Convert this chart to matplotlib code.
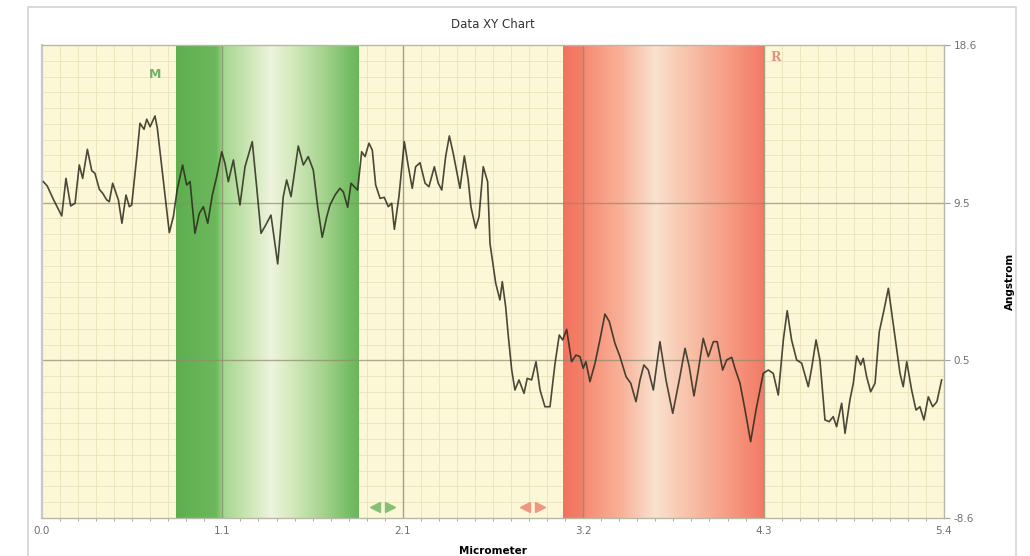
import numpy as np
import matplotlib
matplotlib.use("Agg")
import matplotlib.pyplot as plt
from matplotlib.colors import LinearSegmentedColormap
from matplotlib.patches import Rectangle

# Profile data
micrometer = [0.008, 0.031, 0.067, 0.091, 0.117, 0.142, 0.170, 0.196, 0.221, 0.241,
              0.269, 0.295, 0.314, 0.340, 0.360, 0.384, 0.399, 0.419, 0.453, 0.474,
              0.498, 0.518, 0.532, 0.562, 0.581, 0.605, 0.621, 0.641, 0.670, 0.684,
              0.724, 0.755, 0.779, 0.802, 0.834, 0.858, 0.878, 0.907, 0.933,
              0.957, 0.983, 1.010, 1.036, 1.066, 1.085, 1.105, 1.135, 1.174, 1.204,
              1.247, 1.273, 1.299, 1.327, 1.358, 1.398, 1.431, 1.451, 1.477, 1.520,
              1.550, 1.579, 1.609, 1.635, 1.662, 1.689, 1.708, 1.738, 1.767, 1.787,
              1.813, 1.833, 1.852, 1.872, 1.896,
              1.916, 1.939, 1.959, 1.979, 2.005, 2.030, 2.054, 2.074, 2.090, 2.117,
              2.149, 2.173, 2.196, 2.216, 2.242, 2.272, 2.295, 2.327, 2.350, 2.371,
              2.394, 2.416, 2.439, 2.479, 2.505, 2.528, 2.544, 2.572, 2.592, 2.617,
              2.643, 2.657, 2.677, 2.691, 2.716, 2.730, 2.750, 2.766, 2.786, 2.805,
              2.829,
              2.859, 2.878, 2.904, 2.930, 2.954, 2.983, 3.013, 3.043, 3.068, 3.088,
              3.112, 3.141, 3.167, 3.191, 3.210, 3.226, 3.250, 3.280, 3.309, 3.339,
              3.365, 3.398, 3.428, 3.464, 3.492, 3.523, 3.547, 3.570, 3.596, 3.626,
              3.665, 3.701, 3.741, 3.780, 3.814,
              3.839, 3.867, 3.893, 3.922, 3.952, 3.982, 4.005, 4.037, 4.061, 4.091,
              4.110, 4.140, 4.170, 4.203, 4.235, 4.278, 4.308, 4.337, 4.367, 4.397,
              4.420, 4.446, 4.476, 4.506, 4.545, 4.565, 4.591, 4.614, 4.644, 4.669,
              4.693, 4.713, 4.743, 4.763,
              4.792, 4.812, 4.832, 4.856, 4.871, 4.891, 4.915, 4.941, 4.966, 4.990,
              5.020, 5.059, 5.089, 5.108, 5.129, 5.158, 5.184, 5.207, 5.231, 5.257,
              5.283, 5.308, 5.336]

angstrom = [10.74, 10.49, 9.73, 9.27, 8.77, 10.93, 9.34, 9.50, 11.70, 10.93,
            12.60, 11.37, 11.22, 10.30, 10.07, 9.69, 9.59, 10.65, 9.69, 8.35,
            9.97, 9.30, 9.40, 12.18, 14.10, 13.75, 14.33, 13.90, 14.52, 13.81,
            10.45, 7.81, 8.73, 10.30, 11.70, 10.55, 10.74, 7.77, 8.92,
            9.30, 8.35, 9.97, 11.03, 12.46, 11.80, 10.74, 11.99, 9.40, 11.60,
            13.04, 10.45, 7.77, 8.25, 8.82, 6.01, 9.88, 10.84, 9.88, 12.79,
            11.70, 12.18, 11.41, 9.30, 7.54, 8.73, 9.40, 9.97, 10.36, 10.16,
            9.27, 10.65, 10.45, 10.26, 12.46,
            12.18, 12.95, 12.56, 10.55, 9.78, 9.84, 9.30, 9.50, 8.00, 9.88,
            13.04, 11.60, 10.36, 11.60, 11.83, 10.65, 10.45, 11.60, 10.65, 10.26,
            12.18, 13.37, 12.37, 10.36, 12.22, 10.84, 9.30, 8.06, 8.73, 11.60,
            10.74, 7.20, 5.85, 4.90, 3.94, 4.99, 3.55, 1.83, -0.09, -1.24,
            -0.66,
            -1.43, -0.57, -0.66, 0.39, -1.24, -2.20, -2.20, 0.30, 1.92, 1.64,
            2.25, 0.39, 0.77, 0.68, 0.01, 0.39, -0.76, 0.30, 1.64, 3.13,
            2.69, 1.45, 0.68, -0.47, -0.85, -1.91, -0.66, 0.20, -0.09, -1.24,
            1.54, -0.66, -2.58, -0.66, 1.16,
            0.10, -1.58, -0.09, 1.73, 0.68, 1.54, 1.54, -0.09, 0.49, 0.64,
            0.01, -0.85, -2.39, -4.21, -2.39, -0.28, -0.09, -0.28, -1.53, 1.64,
            3.32, 1.64, 0.49, 0.30, -1.05, 0.01, 1.64, 0.49, -2.96, -3.06,
            -2.77, -3.35, -2.00, -3.73,
            -1.81, -0.85, 0.72, 0.20, 0.58, -0.47, -1.34, -0.85, 2.11, 3.17,
            4.61, 1.83, -0.28, -1.05, 0.39, -1.24, -2.39, -2.20, -2.96, -1.63,
            -2.20, -1.91, -0.66]

# Axis ranges and tick labels
x_range = [0.0, 5.35]
y_range = [-8.6, 18.6]
x_tick_labels = ["0.0", "1.1", "2.1", "3.2", "4.3", "5.4"]
y_tick_labels = ["-8.6", "0.5", "9.5", "18.6"]

# Marker bands M and R
band_m = [0.795, 1.88]
band_r = [3.09, 4.28]

GREEN_STOPS = [(0.0, "#5eae50"), (0.22, "#6cb95c"), (0.245, "#8ccd79"),
               (0.255, "#a3d78e"), (0.40, "#cde6b6"), (0.52, "#eef4de"),
               (0.64, "#d3e9bb"), (0.82, "#a2d28b"), (0.95, "#76bd65"),
               (1.0, "#6ab65b")]
RED_STOPS = [(0.0, "#f2735f"), (0.09, "#f47f69"), (0.11, "#f68c74"),
             (0.30, "#f9b49b"), (0.46, "#f8e2cf"), (0.60, "#f9c6ae"),
             (0.85, "#f6977f"), (1.0, "#f37b66")]


def draw_band(ax, span, stops):
    cmap = LinearSegmentedColormap.from_list("band", stops)
    grad = np.linspace(0, 1, 400).reshape(1, -1)
    ax.imshow(grad, cmap=cmap, extent=[span[0], span[1], y_range[0], y_range[1]],
              aspect="auto", zorder=0.7, interpolation="bilinear")


def main():
    fig = plt.figure(figsize=(10.3, 5.56), dpi=100)
    fig.patches.append(Rectangle((0.027, -0.01), 0.959, 0.997, transform=fig.transFigure,
                                 fill=False, edgecolor="#d4d4d4", linewidth=1.2))
    ax = fig.add_axes([0.0408, 0.0683, 0.8757, 0.8508])
    ax.set_facecolor("#fcf7d6")

    draw_band(ax, band_m, GREEN_STOPS)
    draw_band(ax, band_r, RED_STOPS)

    ax.plot(micrometer, angstrom, color="#2a2a1c", linewidth=1.2, alpha=0.85, zorder=3)

    ax.set_xlim(x_range)
    ax.set_ylim(y_range)

    xt = np.linspace(x_range[0], x_range[1], len(x_tick_labels))
    yt = np.linspace(y_range[0], y_range[1], len(y_tick_labels))
    ax.set_xticks(xt)
    ax.set_xticklabels(x_tick_labels)
    ax.set_yticks(yt)
    ax.set_yticklabels(y_tick_labels)
    ax.set_xticks(np.linspace(x_range[0], x_range[1], 51), minor=True)
    ax.set_yticks(np.linspace(y_range[0], y_range[1], 31), minor=True)

    # minor grid sits under the bands, major lines go over them
    ax.set_axisbelow(True)
    ax.grid(which="minor", color="#e9e1b6", linewidth=0.7, alpha=0.8)
    for v in xt[1:-1]:
        ax.axvline(v, color="#8f8a70", linewidth=1.0, alpha=0.8, zorder=1)
    for v in yt[1:-1]:
        ax.axhline(v, color="#8f8a70", linewidth=1.0, alpha=0.7, zorder=1)

    ax.yaxis.tick_right()
    ax.tick_params(axis="both", which="major", labelsize=7.5, labelcolor="#707070",
                   color="#a0a0a0", length=4, width=0.8)
    ax.tick_params(axis="x", which="minor", color="#a0a0a0", length=2, width=0.6)
    ax.tick_params(axis="y", which="minor", length=0, right=False, left=False)
    ax.tick_params(axis="x", which="major", length=0, pad=6)
    ax.tick_params(axis="y", which="major", pad=3)

    for name, sp in ax.spines.items():
        sp.set_color("#b8b8a8")
        sp.set_linewidth(1.0)
    ax.spines["left"].set_color("#c8c8c8")
    ax.spines["left"].set_linewidth(1.6)

    ax.set_title("Data XY Chart", fontsize=8.5, color="#333333", pad=12)
    ax.set_xlabel("Micrometer", fontsize=7.5, fontweight="bold", labelpad=7)
    ax.yaxis.set_label_position("right")
    ax.set_ylabel("Angstrom", fontsize=7.5, fontweight="bold", rotation=90, labelpad=20)

    # band labels
    ax.text(0.67, 16.9, "M", color="#72b06a", fontsize=9, fontweight="bold",
            ha="center", va="center", zorder=4)
    ax.text(4.35, 17.9, "R", color="#e8907e", fontsize=9, fontweight="bold",
            family="DejaVu Serif", ha="center", va="center", zorder=4)

    # double arrows at the bottom of the bands
    for cx, col in [(2.02, "#86bf78"), (2.91, "#f0957f")]:
        ax.plot([cx - 0.045], [-7.97], marker="<", markersize=7, color=col,
                linestyle="none", zorder=4)
        ax.plot([cx + 0.045], [-7.97], marker=">", markersize=7, color=col,
                linestyle="none", zorder=4)

    fig.savefig("out.png", dpi=100)


if __name__ == "__main__":
    main()
